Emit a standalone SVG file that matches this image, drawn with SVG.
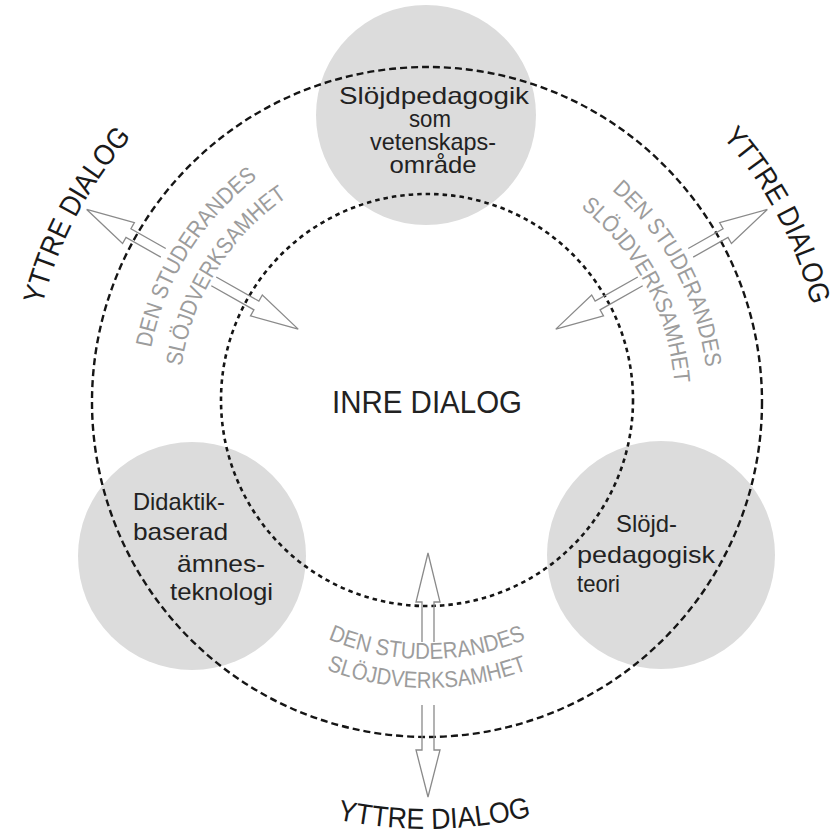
<svg xmlns="http://www.w3.org/2000/svg" width="839" height="834" viewBox="0 0 839 834">
<defs>
<style>
.blob{fill:#dcdcdc;stroke:none}
.ring-out{fill:none;stroke:#151515;stroke-width:2.4;stroke-dasharray:7 4}
.ring-in{fill:none;stroke:#151515;stroke-width:2.6;stroke-dasharray:4.5 4}
.node{font-family:"Liberation Sans",Arial,sans-serif;font-size:24px;fill:#222}
.big{font-family:"Liberation Sans",Arial,sans-serif;font-size:29px;fill:#1a1a1a}
.gray{font-family:"Liberation Sans",Arial,sans-serif;font-size:23px;fill:#9c9c9c}
.arrow{fill:none;stroke:#8a8a8a;stroke-width:1.3;stroke-linejoin:miter}
</style>
<path id="pUL" d="M59.2,550.6 A397,397 0 0 1 344.5,13.7"/>
<path id="pUR" d="M509.5,13.7 A397,397 0 0 1 794.8,550.6"/>
<path id="pB" d="M104.8,682.1 A427,427 0 0 0 758.8,670.7"/>
<path id="gUL1" d="M159.7,488.8 A281,281 0 0 1 387.9,123.7"/>
<path id="gUL2" d="M191.1,478.6 A248,248 0 0 1 392.5,156.4"/>
<path id="gUR1" d="M485.4,127.1 A281,281 0 0 1 687.5,507.3"/>
<path id="gUR2" d="M478.6,159.4 A248,248 0 0 1 656.9,494.9"/>
<path id="gB1" d="M230.1,567.2 A257,257 0 0 0 623.9,567.2"/>
<path id="gB2" d="M207.9,585.8 A286,286 0 0 0 646.1,585.8"/>
<polyline id="arrOut" points="303,-5 343,-5 343,-12 391,0 343,12 343,5 303,5"/>
<polyline id="arrIn" points="245,-5 196,-5 196,-12 148,0 196,12 196,5 245,5"/>
</defs>
<rect width="839" height="834" fill="#ffffff"/>

<g id="node-vetenskap">
<circle class="blob" cx="426" cy="115" r="110"/>
</g>
<g id="node-didaktik">
<circle class="blob" cx="192" cy="556" r="114"/>
</g>
<g id="node-teori">
<circle class="blob" cx="661" cy="555" r="114"/>
</g>

<circle class="ring-out" cx="427" cy="402" r="335"/>
<circle class="ring-in" cx="427" cy="400" r="206"/>

<g id="node-vetenskap-text" class="node" text-anchor="middle">
<text x="434" y="104" textLength="190" lengthAdjust="spacingAndGlyphs">Slöjdpedagogik</text>
<text x="430" y="127" textLength="42" lengthAdjust="spacingAndGlyphs">som</text>
<text x="433" y="150" textLength="126" lengthAdjust="spacingAndGlyphs">vetenskaps-</text>
<text x="433" y="173" textLength="87" lengthAdjust="spacingAndGlyphs">område</text>
</g>
<g id="node-didaktik-text" class="node">
<text x="133" y="510" textLength="92" lengthAdjust="spacingAndGlyphs">Didaktik-</text>
<text x="133" y="540" textLength="95" lengthAdjust="spacingAndGlyphs">baserad</text>
<text x="177" y="572" textLength="88" lengthAdjust="spacingAndGlyphs">ämnes-</text>
<text x="170" y="600" textLength="103" lengthAdjust="spacingAndGlyphs">teknologi</text>
</g>
<g id="node-teori-text" class="node">
<text x="616" y="532" textLength="61" lengthAdjust="spacingAndGlyphs">Slöjd-</text>
<text x="577" y="563" textLength="138" lengthAdjust="spacingAndGlyphs">pedagogisk</text>
<text x="577" y="592" textLength="43" lengthAdjust="spacingAndGlyphs">teori</text>
</g>

<g id="node-inre">
<text class="node" x="427" y="413" text-anchor="middle" style="font-size:32px" textLength="190" lengthAdjust="spacingAndGlyphs">INRE DIALOG</text>
</g>

<g id="connectors" class="arrow">
<g transform="translate(427,402) rotate(209.5)"><use href="#arrOut"/><use href="#arrIn"/></g>
<g transform="translate(427,402) rotate(-29.5)"><use href="#arrOut"/><use href="#arrIn"/></g>
<g transform="translate(428,402) rotate(90)">
<polyline points="303,-6 348,-6 348,-12 395,0 348,12 348,6 303,6"/>
<polyline points="240,-6 200,-6 200,-12 151,0 200,12 200,6 240,6"/>
</g>
</g>

<g id="labels-outer" class="big" text-anchor="middle">
<text><textPath href="#pUL" startOffset="50%" textLength="192" lengthAdjust="spacingAndGlyphs">YTTRE DIALOG</textPath></text>
<text><textPath href="#pUR" startOffset="50%" textLength="192" lengthAdjust="spacingAndGlyphs">YTTRE DIALOG</textPath></text>
<text><textPath href="#pB" startOffset="50%" textLength="196" lengthAdjust="spacingAndGlyphs">YTTRE DIALOG</textPath></text>
</g>

<g id="labels-activity" class="gray" text-anchor="middle">
<text><textPath href="#gUL1" startOffset="50%" textLength="205" lengthAdjust="spacingAndGlyphs">DEN STUDERANDES</textPath></text>
<text><textPath href="#gUL2" startOffset="50%" textLength="205" lengthAdjust="spacingAndGlyphs">SLÖJDVERKSAMHET</textPath></text>
<text><textPath href="#gUR1" startOffset="50%" textLength="205" lengthAdjust="spacingAndGlyphs">DEN STUDERANDES</textPath></text>
<text><textPath href="#gUR2" startOffset="50%" textLength="205" lengthAdjust="spacingAndGlyphs">SLÖJDVERKSAMHET</textPath></text>
<text><textPath href="#gB1" startOffset="50%" textLength="203" lengthAdjust="spacingAndGlyphs">DEN STUDERANDES</textPath></text>
<text><textPath href="#gB2" startOffset="50%" textLength="205" lengthAdjust="spacingAndGlyphs">SLÖJDVERKSAMHET</textPath></text>
</g>
</svg>
